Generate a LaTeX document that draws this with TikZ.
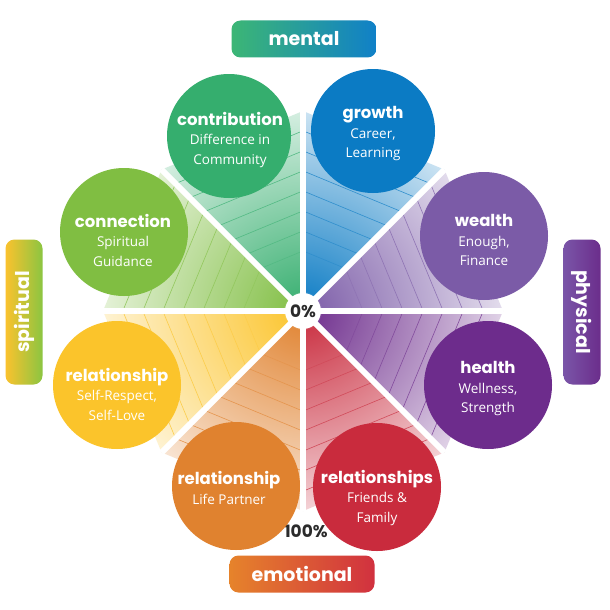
\documentclass[tikz,border=0pt]{standalone}
\usepackage{fontspec}
\setmainfont{Open Sans}
\newfontfamily\titlefont{Poppins}
\newfontfamily\subfont{Open Sans}
\usetikzlibrary{calc}
\definecolor{cContrib}{HTML}{35AE6E}
\definecolor{cGrowth}{HTML}{0B7BC4}
\definecolor{cWealth}{HTML}{7B5BA7}
\definecolor{cHealth}{HTML}{6D2C8C}
\definecolor{cFriends}{HTML}{C92B3D}
\definecolor{cPartner}{HTML}{E0822F}
\definecolor{cSelf}{HTML}{FBC42B}
\definecolor{cConn}{HTML}{80BE42}
\definecolor{mL}{HTML}{3CB675}
\definecolor{mR}{HTML}{1080C8}
\definecolor{eL}{HTML}{E6832B}
\definecolor{eR}{HTML}{D1313F}
\definecolor{sT}{HTML}{8CC541}
\definecolor{sB}{HTML}{FAC22E}
\definecolor{pT}{HTML}{7A55A8}
\definecolor{pB}{HTML}{6B2D8B}
\definecolor{darktxt}{HTML}{2B2B2B}
\newcommand\wtitle[1]{{\titlefont\bfseries\fontsize{16.5}{25}\selectfont #1}}
\tikzset{
  hatch/.style={line width=0.6pt},
  gapline/.style={draw=white, line width=6pt},
  bubble/.style={circle, draw=none, inner sep=0pt},
  btext/.style={align=center, text=white, inner sep=0pt, font=\subfont\fontsize{13.5}{19.5}\selectfont},
  catbox/.style={rounded corners=9pt, minimum width=145pt, minimum height=37pt, inner sep=0pt,
     text=white, font=\titlefont\bfseries\fontsize{19}{21}\selectfont},
  pct/.style={text=darktxt, inner sep=0pt, font=\titlefont\bfseries\fontsize{17}{19}\selectfont}
}
\begin{document}
\begin{tikzpicture}[x=1pt,y=-1pt]
\useasboundingbox (0,0) rectangle (610,610);
\fill[white] (0,0) rectangle (610,610);
\coordinate (C) at (303,311);
% octagon vertices (pixel angles, y downwards)
\foreach \nm/\ang in {N/270, NE/315, E/0, SE/45, S/90, SW/135, W/180, NW/225}{
  \coordinate (\nm) at ($(C)+(\ang:200)$);
}
% wedges
\foreach \col/\a/\b/\bis in {cContrib/N/NW/247.5, cGrowth/N/NE/292.5, cWealth/NE/E/337.5, cHealth/E/SE/22.5, cFriends/SE/S/67.5, cPartner/S/SW/112.5, cSelf/SW/W/157.5, cConn/W/NW/202.5}{
  \begin{scope}
    \clip (C) -- (\a) -- (\b) -- cycle;
    \shade[inner color=\col, outer color=\col!15] (C) circle (215);
    \foreach \k in {1,...,9}{
      \draw[hatch, draw=\col!85] ($(C)+(\bis:18.5*\k)+({\bis+90}:320)$) -- ($(C)+(\bis:18.5*\k)+({\bis-90}:320)$);
    }
  \end{scope}
}
% gaps
\draw[gapline] (N) -- (S);
\draw[gapline] (W) -- (E);
\draw[gapline] (NW) -- (SE);
\draw[gapline] (NE) -- (SW);
% centre
\node[circle, fill=white, minimum size=36pt, inner sep=0pt] (zero) at (C) {};
\node[pct] (zerotxt) at (C) {0\%};
\node[pct] (hundred) at (306,531) {100\%};
% bubbles
\node[bubble, fill=cContrib, minimum size=124pt] (contribution) at (229,136) {};
\node[bubble, fill=cGrowth, minimum size=124pt] (growth) at (373,131) {};
\node[bubble, fill=cWealth, minimum size=128pt] (wealth) at (484,236) {};
\node[bubble, fill=cHealth, minimum size=128pt] (health) at (488,385) {};
\node[bubble, fill=cFriends, minimum size=128pt] (friends) at (377,487) {};
\node[bubble, fill=cPartner, minimum size=128pt] (partner) at (236,486) {};
\node[bubble, fill=cSelf, minimum size=128pt] (self) at (117,385) {};
\node[bubble, fill=cConn, minimum size=128pt] (connection) at (124,232) {};
% bubble texts
\node[btext] (contribution-t) at (230,140) {\wtitle{contribution}\\Difference in\\Community};
\node[btext] (growth-t) at (373,134) {\wtitle{growth}\\Career,\\Learning};
\node[btext] (wealth-t) at (484,240) {\wtitle{wealth}\\Enough,\\Finance};
\node[btext] (health-t) at (488,389) {\wtitle{health}\\Wellness,\\Strength};
\node[btext] (friends-t) at (377,498) {\wtitle{relationships}\\Friends \&\\Family};
\node[btext] (partner-t) at (229,488) {\wtitle{relationship}\\Life Partner};
\node[btext] (self-t) at (117,394) {\wtitle{relationship}\\Self-Respect,\\Self-Love};
\node[btext] (connection-t) at (123,240) {\wtitle{connection}\\Spiritual\\Guidance};
% category boxes
\node[catbox, left color=mL, right color=mR] (mental) at (304,39) {mental};
\node[catbox, left color=eL, right color=eR] (emotional) at (302,574) {emotional};
\node[catbox, rotate=90, left color=sB, right color=sT] (spiritual) at (24,312) {spiritual};
\node[catbox, rotate=-90, left color=pT, right color=pB] (physical) at (582,312) {physical};
\end{tikzpicture}
\end{document}
